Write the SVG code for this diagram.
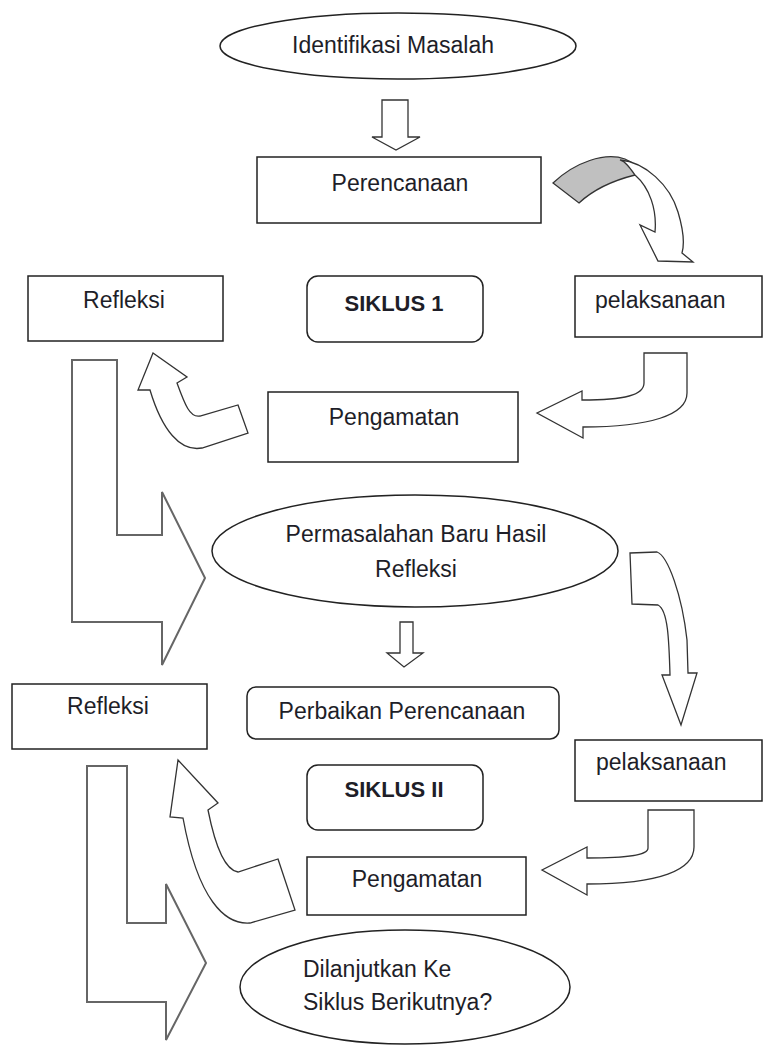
<svg xmlns="http://www.w3.org/2000/svg" width="764" height="1047" viewBox="0 0 764 1047">
<style>
.box{fill:#fff;stroke:#222;stroke-width:1.5}
.arr{fill:#fff;stroke:#333;stroke-width:1.3;stroke-linejoin:miter}
.big{fill:#fff;stroke:#666;stroke-width:2}
.t{font-family:"Liberation Sans",Arial,sans-serif;font-size:23px;fill:#1e1e28}
.c{text-anchor:middle}
.b{font-weight:bold;font-size:22px}
</style>
<rect width="764" height="1047" fill="#fff"/>
<g id="connectors">
<path class="arr" d="M382,100 H408 V137 H420 L396,150 L372,137 H382 Z"/>
<path d="M553,183 C575,162 605,152 625,159 C635,163 640,170 643,178 L635,175 C615,180 595,188 579,203 Z" fill="#c0c0c0" stroke="#333" stroke-width="1.3"/>
<path class="arr" d="M620,160 C645,162 670,185 678,212 C684,232 684,246 682,253 L693,262 L658,261 L640,225 L655,232 C657,210 650,188 635,175 C630,168 626,162 620,160 Z"/>
<path class="arr" d="M644,353 H687 V393 C687,415 650,427 583,427 V438 L537,413 L582,391 V400 C625,400 644,395 644,383 Z"/>
<path class="arr" d="M238,405 L248,433 L202,448 C180,452 162,430 150,390 L138,390 L153,353 L187,377 L177,383 C185,405 190,418 200,416 Z"/>
<path class="big" d="M72,360 H117 V535 H162 V492 L205,578 L162,665 V622 H72 Z"/>
<path class="arr" d="M400,622 H413 V653 H423 L404,667 L387,653 H400 Z"/>
<path class="arr" d="M630,553 L657,552 C668,556 682,595 687,640 L688,673 L697,673 L681,725 L662,675 L670,675 C669,640 668,610 658,605 L632,604 Z"/>
<path class="arr" d="M648,810 H694 V847 C694,870 660,884 587,884 V895 L542,870 L587,847 V858 C630,858 648,855 648,848 Z"/>
<path class="arr" d="M278,859 L295,910 L250,923 C225,925 198,900 183,818 L170,817 L178,760 L218,803 L208,810 C215,845 225,870 238,872 Z"/>
<path class="big" d="M87,766 H127 V923 H166 V884 L206,963 L166,1040 V1002 H87 Z"/>
</g>
<g id="n-identifikasi">
<ellipse class="box" cx="398" cy="46" rx="178" ry="33"/>
<text class="t c" x="393" y="53">Identifikasi Masalah</text>
</g>
<g id="n-perencanaan">
<rect class="box" x="257" y="157" width="284" height="66"/>
<text class="t c" x="400" y="191">Perencanaan</text>
</g>
<g id="n-refleksi1">
<rect class="box" x="28" y="276" width="195" height="65"/>
<text class="t c" x="124" y="308">Refleksi</text>
</g>
<g id="n-siklus1">
<rect class="box" x="307" y="276" width="176" height="66" rx="11"/>
<text class="t c b" x="394" y="311">SIKLUS 1</text>
</g>
<g id="n-pelaksanaan1">
<rect class="box" x="575" y="276" width="187" height="61"/>
<text class="t" x="595" y="308">pelaksanaan</text>
</g>
<g id="n-pengamatan1">
<rect class="box" x="268" y="392" width="250" height="70"/>
<text class="t c" x="394" y="425">Pengamatan</text>
</g>
<g id="n-permasalahan">
<ellipse class="box" cx="415" cy="551" rx="203" ry="56"/>
<text class="t c" x="416" y="542">Permasalahan Baru Hasil</text>
<text class="t c" x="416" y="577">Refleksi</text>
</g>
<g id="n-perbaikan">
<rect class="box" x="247" y="687" width="312" height="52" rx="9"/>
<text class="t c" x="402" y="719">Perbaikan Perencanaan</text>
</g>
<g id="n-refleksi2">
<rect class="box" x="12" y="684" width="195" height="65"/>
<text class="t c" x="108" y="714">Refleksi</text>
</g>
<g id="n-pelaksanaan2">
<rect class="box" x="575" y="740" width="187" height="61"/>
<text class="t" x="596" y="770">pelaksanaan</text>
</g>
<g id="n-siklus2">
<rect class="box" x="307" y="765" width="176" height="65" rx="11"/>
<text class="t c b" x="394" y="797">SIKLUS II</text>
</g>
<g id="n-pengamatan2">
<rect class="box" x="307" y="857" width="219" height="58"/>
<text class="t c" x="417" y="887">Pengamatan</text>
</g>
<g id="n-dilanjutkan">
<ellipse class="box" cx="405" cy="987" rx="165" ry="57"/>
<text class="t" x="303" y="977">Dilanjutkan Ke</text>
<text class="t" x="303" y="1010">Siklus Berikutnya?</text>
</g>
</svg>
